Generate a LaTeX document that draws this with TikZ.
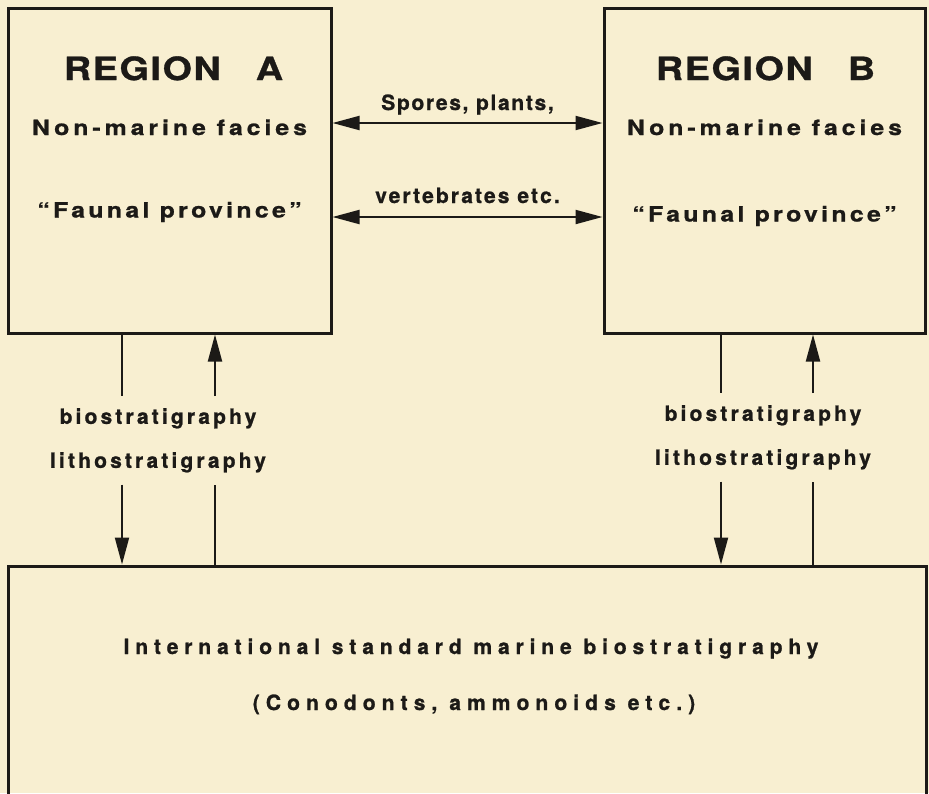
\documentclass[tikz,border=0pt]{standalone}
\usepackage{fontspec}
\setmainfont{TeX Gyre Heros}
\usepackage{tikz}
\usetikzlibrary{arrows.meta,positioning}
\definecolor{pgPaper}{HTML}{F8EFD1}
\definecolor{pgInk}{HTML}{1C1A17}
\tikzset{
  region box/.style={draw=pgInk,line width=3pt,minimum width=323pt,minimum height=325pt,inner sep=0pt},
  title text/.style={font=\bfseries\fontsize{32}{36}\selectfont\addfontfeatures{LetterSpace=5,FakeStretch=1.18,FakeBold=1},text=pgInk,inner sep=0pt},
  facies text/.style={font=\bfseries\fontsize{21}{25}\selectfont\addfontfeatures{LetterSpace=#1,FakeStretch=1.18,FakeBold=1},text=pgInk,inner sep=0pt},
  facies text/.default=16,
  flow text/.style={font=\bfseries\fontsize{21}{25}\selectfont\addfontfeatures{LetterSpace=#1,FakeBold=1},text=pgInk,inner sep=0pt},
  flow text/.default=9,
  strat text/.style={font=\bfseries\fontsize{21}{44}\selectfont\addfontfeatures{LetterSpace=15,FakeBold=1},text=pgInk,
    align=center,inner xsep=0pt,inner ysep=12pt},
  link/.style={draw=pgInk,line width=2pt,>={Triangle[length=27pt,width=14pt]}}
}

\begin{document}
\begin{tikzpicture}[x=1pt,y=-1pt]
\fill[pgPaper] (0,0) rectangle (929,793);
\useasboundingbox (0,0) rectangle (929,793);

% the three boxes
\node[region box,anchor=north west] (a) at (6.5,6.5) {};
\node[region box,minimum width=321pt,right=270pt of a] (b) {};
\node[region box,minimum width=918pt,minimum height=260pt,below=230pt of a.south west,anchor=north west] (std) {};

\node[title text,below=73.5pt of a.north,anchor=base,xshift=4pt] (atitle) {REGION\hspace{35pt}A};
\node[facies text=19,below=128.5pt of a.north,anchor=base] (afacies) {Non-marine facies};
\node[facies text=16,below=211pt of a.north,anchor=base] (aprov) {“Faunal province”};
\node[title text,below=73.5pt of b.north,anchor=base,xshift=1pt] (btitle) {REGION\hspace{35pt}B};
\node[facies text=19,below=128.5pt of b.north,anchor=base] (bfacies) {Non-marine facies};
\node[facies text=16,below=215pt of b.north,anchor=base] (bprov) {“Faunal province”};
\node[flow text=28,below=89.5pt of std.north,anchor=base,xshift=4pt] (stdname) {International standard marine biostratigraphy};
\node[flow text=29,below=145.5pt of std.north,anchor=base,xshift=7pt] (stdgroups) {(Conodonts, ammonoids etc.)};

% exchange between the regions
\coordinate (flowtop) at (0,123);
\coordinate (flowbot) at (0,217);
\draw[link,<->] (a.east |- flowtop) -- node[flow text=8,anchor=base,yshift=13pt] (spores) {Spores, plants,} (b.west |- flowtop);
\draw[link,<->] (a.east |- flowbot) -- node[flow text=10,anchor=base,yshift=14pt] (verts) {vertebrates etc.} (b.west |- flowbot);

% correlation with the standard
\coordinate (aout) at (122,0);
\coordinate (ain) at (215,0);
\coordinate (bout) at (721,0);
\coordinate (bin) at (813,0);
\node[strat text,anchor=north] (astrat) at (158,396) {biostratigraphy\\lithostratigraphy};
\node[strat text,anchor=north] (bstrat) at (763,393) {biostratigraphy\\lithostratigraphy};
\draw[link] (a.south -| aout) -- (astrat.north -| aout);
\draw[link,->] (astrat.south -| aout) -- (std.north -| aout);
\draw[link] (std.north -| ain) -- (astrat.south -| ain);
\draw[link,->] (astrat.north -| ain) -- (a.south -| ain);
\draw[link] (b.south -| bout) -- (bstrat.north -| bout);
\draw[link,->] (bstrat.south -| bout) -- (std.north -| bout);
\draw[link] (std.north -| bin) -- (bstrat.south -| bin);
\draw[link,->] (bstrat.north -| bin) -- (b.south -| bin);
\end{tikzpicture}
\end{document}
